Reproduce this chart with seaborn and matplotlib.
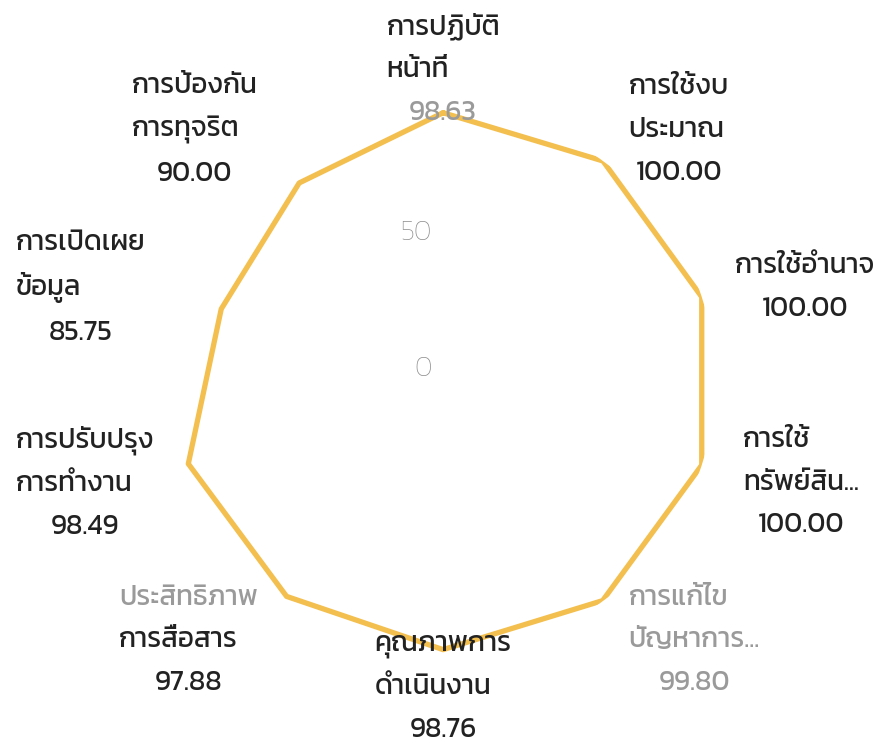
import numpy as np
import pandas as pd
import seaborn as sns
import matplotlib
matplotlib.use("Agg")
import matplotlib.pyplot as plt
from matplotlib.offsetbox import TextArea, VPacker, AnnotationBbox
from matplotlib.transforms import offset_copy

# categories (wrapped as in the chart) and scores
labels = [
    ["การปฏิบัติ", "หน้าที่"],
    ["การใช้งบ", "ประมาณ"],
    ["การใช้อำนาจ"],
    ["การใช้", "ทรัพย์สิน..."],
    ["การแก้ไข", "ปัญหาการ..."],
    ["คุณภาพการ", "ดำเนินงาน"],
    ["ประสิทธิภาพ", "การสื่อสาร"],
    ["การปรับปรุง", "การทำงาน"],
    ["การเปิดเผย", "ข้อมูล"],
    ["การป้องกัน", "การทุจริต"],
]
scores = [98.63, 100.00, 100.00, 100.00, 99.80, 98.76, 97.88, 98.49, 85.75, 90.00]
r_ticks = [0, 50]

# faded text in the original picture (label index, line index; -1 = value)
faded = {(0, -1), (4, 0), (4, 1), (4, -1), (6, 0)}

sns.set_theme(style="white")
plt.rcParams['font.family'] = ['Kanit', 'DejaVu Sans']

dark = "#222222"
grey = "#9a9a9a"
fsize = 20
weight = "normal"

n = len(scores)
theta = np.linspace(0, 2 * np.pi, n, endpoint=False)
df = pd.DataFrame({"theta": np.append(theta, theta[0]),
                   "score": scores + [scores[0]]})

fig = plt.figure(figsize=(8.85, 7.55), dpi=100)
ax = fig.add_axes([0.1933, 0.1351, 0.6147, 0.7205], polar=True)
ax.set_theta_zero_location("N")
ax.set_theta_direction(-1)

sns.lineplot(data=df, x="theta", y="score", sort=False, ax=ax,
             color="#F3BF4F", linewidth=3.8, estimator=None)

ax.set_ylim(0, 100)
ax.set_xticks([])
ax.set_yticks([])
ax.grid(False)
ax.spines["polar"].set_visible(False)
ax.set_xlabel("")
ax.set_ylabel("")

# radial tick labels
tick_tf = offset_copy(ax.transData, fig=fig, x=-8, y=9, units="points")
for t in r_ticks:
    ax.text(0, t, str(t), transform=tick_tf, ha="right", va="center",
            fontsize=fsize, color="#8c8c8c", fontweight="light")

boxes = []
for i, (th, lines, val) in enumerate(zip(theta, labels, scores)):
    rows = [TextArea(s, textprops=dict(fontsize=fsize, fontweight=weight,
                                        color=grey if (i, j) in faded else dark))
            for j, s in enumerate(lines)]
    cat = VPacker(children=rows, align="left", pad=0, sep=12)
    v = TextArea(f"{val:.2f}", textprops=dict(fontsize=fsize, fontweight=weight,
                                               color=grey if (i, -1) in faded else dark))
    block = VPacker(children=[cat, v], align="center", pad=0, sep=12)
    s = np.sin(th)
    hx = 0.5 if abs(s) < 0.1 else (0.0 if s > 0 else 1.0)
    ab = AnnotationBbox(block, (th, 116), xycoords="data", box_alignment=(hx, 0.5),
                        frameon=False, annotation_clip=False,
                        xybox=(0, -3), boxcoords="offset points")
    ax.add_artist(ab)
    boxes.append(ab)

# keep labels inside the canvas like the original renderer does
fig.canvas.draw()
r = fig.canvas.get_renderer()
W, H = fig.bbox.width, fig.bbox.height
for ab in boxes:
    bb = ab.get_window_extent(r)
    dx, dy = 0, -3
    if bb.x0 < 10:
        dx = (10 - bb.x0) * 72 / fig.dpi
    elif bb.x1 > W - 4:
        dx = (W - 4 - bb.x1) * 72 / fig.dpi
    if bb.y0 < 6:
        dy += (6 - bb.y0) * 72 / fig.dpi
    ab.xybox = (dx, dy)

fig.savefig("out.png", dpi=100)
